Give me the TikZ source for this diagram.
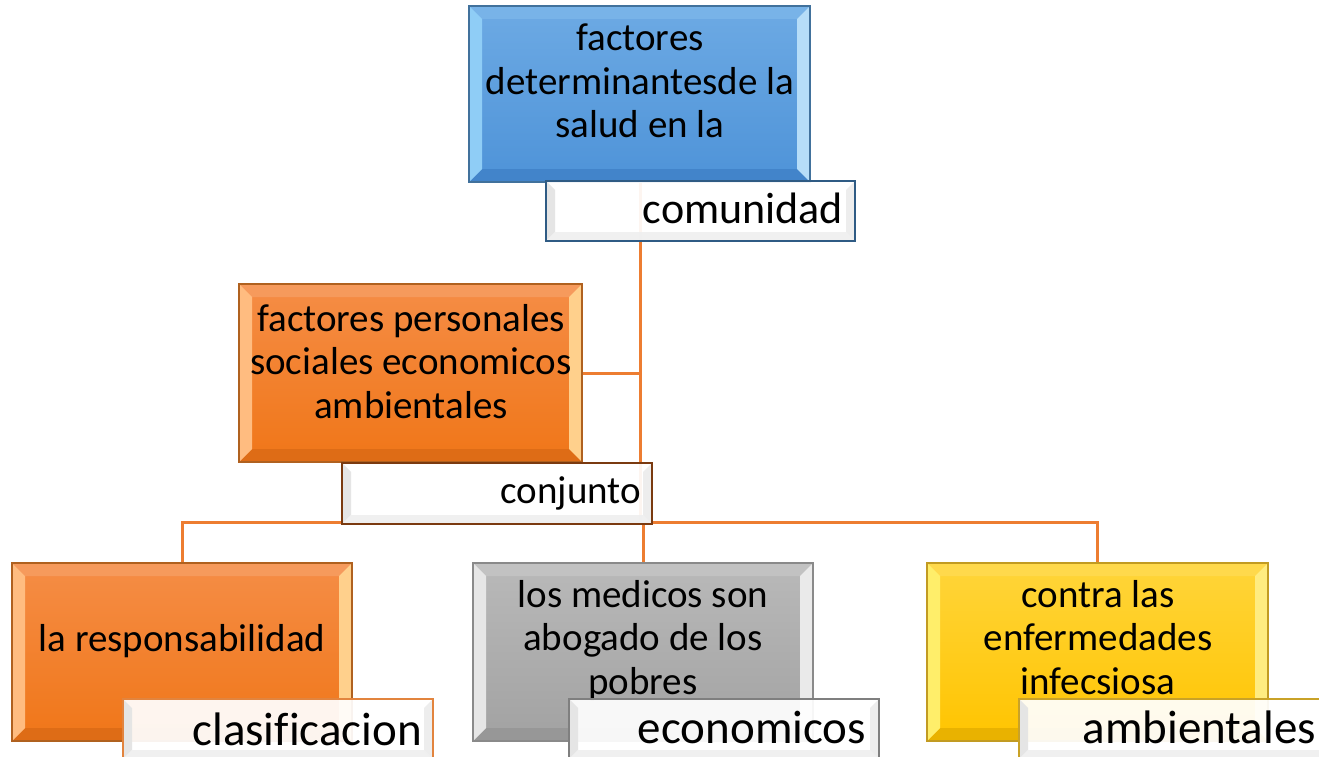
\documentclass[tikz,border=0pt]{standalone}
\usepackage{fontspec}
\setmainfont{Carlito}[Ligatures=NoCommon]
\usetikzlibrary{calc}
\definecolor{conn}{HTML}{ED7D31}
% blue
\definecolor{blueT}{HTML}{6DAAE4}
\definecolor{blueM}{HTML}{4E93D8}
\definecolor{blueB}{HTML}{41719C}
\definecolor{blueTop}{HTML}{78B3E8}
\definecolor{blueBot}{HTML}{4284CA}
\definecolor{blueL}{HTML}{8FCDF6}
\definecolor{blueR}{HTML}{B6DDF8}
% orange
\definecolor{orT}{HTML}{F58D46}
\definecolor{orM}{HTML}{F07618}
\definecolor{orB}{HTML}{B0611F}
\definecolor{orTop}{HTML}{F69A5C}
\definecolor{orBot}{HTML}{DE6C16}
\definecolor{orL}{HTML}{FFBC80}
\definecolor{orR}{HTML}{FFD08C}
% gray
\definecolor{grT}{HTML}{B9B9B9}
\definecolor{grM}{HTML}{A2A2A2}
\definecolor{grB}{HTML}{8A8A8A}
\definecolor{grTop}{HTML}{C2C2C2}
\definecolor{grBot}{HTML}{979797}
\definecolor{grL}{HTML}{E6E6E6}
\definecolor{grR}{HTML}{EAEAEA}
% yellow
\definecolor{yeT}{HTML}{FFD53A}
\definecolor{yeM}{HTML}{FFC400}
\definecolor{yeB}{HTML}{C29B22}
\definecolor{yeTop}{HTML}{FFD94C}
\definecolor{yeBot}{HTML}{E9B200}
\definecolor{yeL}{HTML}{FFEE6A}
\definecolor{yeR}{HTML}{FFEC80}
% label borders
\definecolor{lbBlue}{HTML}{2F5B84}
\definecolor{lbBrown}{HTML}{7A3A10}
\definecolor{lbOr}{HTML}{E2843E}
\definecolor{lbGray}{HTML}{7F7F7F}
\definecolor{lbGold}{HTML}{C9A227}
\definecolor{lbShade}{HTML}{E4E4E4}
\tikzset{
  bevel/.style n args={4}{path picture={
    \fill[#1] (path picture bounding box.north west) -- (path picture bounding box.north east)
      -- ([shift={(-13pt,-13pt)}]path picture bounding box.north east)
      -- ([shift={(13pt,-13pt)}]path picture bounding box.north west) -- cycle;
    \fill[#2] (path picture bounding box.south west) -- (path picture bounding box.south east)
      -- ([shift={(-13pt,13pt)}]path picture bounding box.south east)
      -- ([shift={(13pt,13pt)}]path picture bounding box.south west) -- cycle;
    \fill[#3] (path picture bounding box.north west)
      -- ([shift={(13pt,-13pt)}]path picture bounding box.north west)
      -- ([shift={(13pt,13pt)}]path picture bounding box.south west)
      -- (path picture bounding box.south west) -- cycle;
    \fill[#4] (path picture bounding box.north east)
      -- ([shift={(-13pt,-13pt)}]path picture bounding box.north east)
      -- ([shift={(-13pt,13pt)}]path picture bounding box.south east)
      -- (path picture bounding box.south east) -- cycle;
  }},
  boxbase/.style={rectangle, inner sep=0pt, line width=1.6pt},
  bluebox/.style={boxbase, draw=blueB, top color=blueT, bottom color=blueM, bevel={blueTop}{blueBot}{blueL}{blueR}},
  orbox/.style={boxbase, draw=orB, top color=orT, bottom color=orM, bevel={orTop}{orBot}{orL}{orR}},
  grbox/.style={boxbase, draw=grB, top color=grT, bottom color=grM, bevel={grTop}{grBot}{grL}{grR}},
  yebox/.style={boxbase, draw=yeB, top color=yeT, bottom color=yeM, bevel={yeTop}{yeBot}{yeL}{yeR}},
  boxtext/.style={align=center, anchor=base, inner sep=0pt, font=\fontsize{39}{43.5}\selectfont},
  labelbox/.style={rectangle, line width=1.6pt, fill=white, fill opacity=0.93, text opacity=1,
    inner ysep=0pt, align=right,
    path picture={
      \fill[lbShade] (path picture bounding box.north west)
        -- ([shift={(9pt,-9pt)}]path picture bounding box.north west)
        -- ([shift={(9pt,9pt)}]path picture bounding box.south west)
        -- (path picture bounding box.south west) -- cycle;
      \fill[lbShade!60] (path picture bounding box.south west) -- (path picture bounding box.south east)
        -- ([shift={(-9pt,9pt)}]path picture bounding box.south east)
        -- ([shift={(9pt,9pt)}]path picture bounding box.south west) -- cycle;
      \fill[lbShade!70] (path picture bounding box.north east)
        -- ([shift={(-9pt,-9pt)}]path picture bounding box.north east)
        -- ([shift={(-9pt,9pt)}]path picture bounding box.south east)
        -- (path picture bounding box.south east) -- cycle;
    }},
  connector/.style={draw=conn, line width=3pt}
}
\begin{document}
\begin{tikzpicture}[x=1pt,y=1pt]
\useasboundingbox (0,0) rectangle (1319,-757);
\clip (0,0) rectangle (1319,-757);
% connectors (drawn first, boxes sit on top)
\coordinate (bus) at (640,-522);
\coordinate (topS) at (640,-182);
\coordinate (persE) at (582,-373);
\coordinate (respN) at (182,-563);
\coordinate (medN) at (643,-563);
\coordinate (infN) at (1097.5,-563);
\draw[connector] (topS) -- (bus);
\draw[connector] (persE) -- (persE -| bus);
\draw[connector] (respN) |- (bus);
\draw[connector] (infN) |- (bus);
\draw[connector] (medN) -- (medN |- bus);
% boxes
\node[bluebox, minimum width=341pt, minimum height=176pt] (top) at (639.5,-94) {};
\node[orbox, minimum width=343pt, minimum height=178pt] (pers) at (410.5,-373) {};
\node[orbox, minimum width=340pt, minimum height=178pt] (resp) at (182,-652) {};
\node[grbox, minimum width=340pt, minimum height=178pt] (med) at (643,-652) {};
\node[yebox, minimum width=341pt, minimum height=178pt] (inf) at (1097.5,-652) {};
% box texts (anchor base = baseline of last line)
\node[boxtext] (topT) at (640,-138) {factores\\determinantesde la\\salud en la};
\node[boxtext] (persT) at (411,-418) {factores personales\\sociales economicos\\ambientales};
\node[boxtext] (respT) at (182,-651) {la responsabilidad};
\node[boxtext] (medT) at (643,-694) {los medicos son\\abogado de los\\pobres};
\node[boxtext] (infT) at (1098,-694) {contra las\\enfermedades\\infecsiosa};
% labels
\node[labelbox, draw=lbBlue, inner xsep=12pt, text width=285pt, text height=42pt, text depth=18pt,
  font=\fontsize{44}{50}\selectfont] (comunidad) at (700.5,-211) {comunidad};
\node[labelbox, draw=lbBrown, inner xsep=11pt, text width=288pt, text height=40pt, text depth=21pt,
  font=\fontsize{39}{45}\selectfont] (conjunto) at (497,-493.5) {conjunto};
\node[labelbox, draw=lbOr, inner xsep=11pt, text width=288pt, text height=46pt, text depth=14pt,
  font=\fontsize{47}{53}\selectfont] (clasif) at (278,-729) {clasificacion};
\node[labelbox, draw=lbGray, inner xsep=13pt, text width=284pt, text height=44pt, text depth=16pt,
  font=\fontsize{47}{53}\selectfont] (econ) at (724,-729) {economicos};
\node[labelbox, draw=lbGold, inner xsep=13pt, text width=284pt, text height=44pt, text depth=16pt,
  font=\fontsize{47}{53}\selectfont] (amb) at (1174,-729) {ambientales};
\end{tikzpicture}
\end{document}
